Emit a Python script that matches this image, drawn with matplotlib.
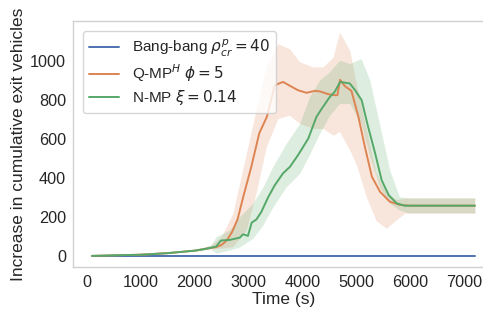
import matplotlib
matplotlib.use("Agg")
import matplotlib.pyplot as plt
import seaborn as sns

sns.set_style("white")
plt.rcParams['font.family'] = ['Liberation Sans', 'DejaVu Sans']
plt.rcParams['mathtext.fontset'] = 'dejavusans'

# Bang-bang (flat at zero)
t_bb = [100, 7200]
v_bb = [0, 0]

# Q-MP^H mean and band
t_q = [100, 500, 1000, 1500, 2000, 2200, 2400, 2500, 2600, 2700, 2800, 2900, 3050, 3200,
       3340, 3490, 3640, 3750, 3920, 4080, 4230, 4330, 4480, 4600, 4650, 4700, 4790,
       4910, 5040, 5160, 5290, 5440, 5620, 5810, 6000, 7200]
v_q = [0, 3, 6, 14, 27, 36, 45, 56, 80, 125, 190, 300, 455, 630,
       714, 877, 894, 877, 851, 838, 848, 845, 831, 826, 826, 905, 872,
       848, 714, 560, 407, 330, 279, 262, 258, 258]
t_q_band = [100, 2000, 2300, 2500, 2710, 2960, 3140, 3330, 3545, 3760, 3950, 4200, 4380, 4570,
            4690, 4880, 5000, 5190, 5370, 5560, 5740, 5900, 7200]
q_hi = [0, 30, 55, 100, 219, 526, 749, 971, 1090, 1065, 997, 971, 971, 1022,
        1150, 1056, 885, 646, 424, 321, 290, 298, 298]
q_lo = [0, 24, 38, 40, 48, 133, 321, 560, 706, 723, 680, 655, 655, 620,
        638, 543, 470, 300, 180, 142, 185, 219, 219]

# N-MP mean and band
t_n = [100, 500, 1000, 1500, 2000, 2200, 2400, 2490, 2650, 2840, 2900, 2990, 3060, 3150,
       3240, 3370, 3490, 3640, 3770, 3920, 4110, 4260, 4360, 4510, 4600, 4700, 4880,
       4980, 5100, 5220, 5350, 5470, 5600, 5750, 5900, 7200]
v_n = [0, 3, 6, 14, 27, 36, 48, 79, 82, 94, 111, 103, 171, 188,
       227, 304, 364, 424, 458, 518, 603, 714, 757, 817, 843, 894, 886,
       851, 800, 663, 527, 390, 313, 270, 258, 258]
t_n_band = [100, 2000, 2300, 2400, 2650, 2830, 3080, 3270, 3450, 3700, 3950, 4130, 4320, 4500,
            4690, 4880, 5090, 5250, 5430, 5620, 5800, 5950, 7200]
n_hi = [0, 30, 55, 99, 133, 200, 270, 355, 458, 578, 680, 817, 903, 945,
        1005, 988, 1014, 903, 680, 441, 304, 298, 298]
n_lo = [0, 24, 35, 14, 30, 45, 90, 160, 250, 355, 424, 520, 630, 720,
        783, 783, 680, 509, 355, 270, 236, 222, 222]

colors = sns.color_palette("deep")
c_blue, c_orange, c_green = colors[0], colors[1], colors[2]

fig = plt.figure(figsize=(4.83, 3.10), dpi=100)
ax = fig.add_axes([73 / 483, 1 - 267 / 310, (494 - 73) / 483, (267 - 21) / 310])

ax.fill_between(t_q_band, q_lo, q_hi, color=c_orange, alpha=0.2, linewidth=0)
ax.fill_between(t_n_band, n_lo, n_hi, color=c_green, alpha=0.2, linewidth=0)
ax.plot(t_bb, v_bb, color=c_blue, lw=1.4, label=r'Bang-bang $\rho_{cr}^{p}=40$')
ax.plot(t_q, v_q, color=c_orange, lw=1.4, label=r'Q-MP$^{H}$ $\phi=5$')
ax.plot(t_n, v_n, color=c_green, lw=1.4, label=r'N-MP $\xi=0.14$')

ax.set_xlim(-255, 7555)
ax.set_ylim(-57, 1207)
ax.set_xticks([0, 1000, 2000, 3000, 4000, 5000, 6000, 7000])
ax.set_yticks([0, 200, 400, 600, 800, 1000])
ax.tick_params(labelsize=11.7, length=0, pad=5)
ax.tick_params(axis='x', pad=6)
for s in ax.spines.values():
    s.set_color('#d0d0d0')
    s.set_linewidth(1.0)

ax.set_xlabel('Time (s)', fontsize=12.5, labelpad=1)
ax.set_ylabel('Increase in cumulative exit vehicles', fontsize=12.5, labelpad=3)

ax.legend(loc='upper left', fontsize=11, frameon=True, handlelength=2.0,
          handletextpad=0.8, borderpad=0.4, labelspacing=0.25,
          bbox_to_anchor=(0.005, 0.99))

fig.savefig('out.png', dpi=100)
